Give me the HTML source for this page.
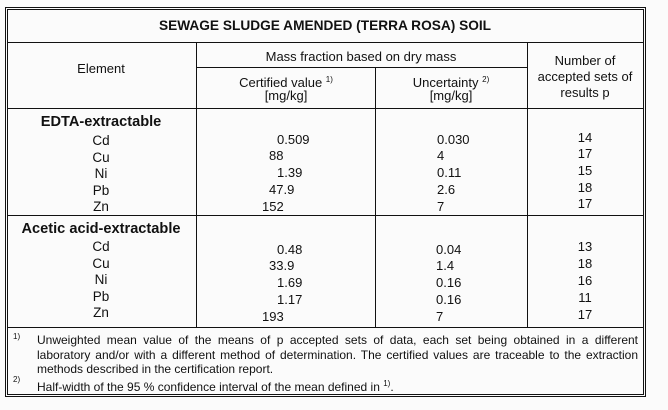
<!DOCTYPE html>
<html><head><meta charset="utf-8"><style>
body{margin:0;width:668px;height:410px;background:#fbfbfb;position:relative;overflow:hidden;font-family:"Liberation Sans",Arial,sans-serif;font-size:13px;color:#111}
.l{position:absolute;background:#111}
.t{position:absolute;line-height:13px;white-space:nowrap}
.c{transform:translateX(-50%)}
b{font-weight:bold}
sup{font-size:8px;vertical-align:5px}
</style></head><body>
<div class="l" style="left:5px;top:7px;width:641px;height:1px"></div>
<div class="l" style="left:5px;top:396px;width:641px;height:1px"></div>
<div class="l" style="left:5px;top:7px;width:1px;height:390px"></div>
<div class="l" style="left:645px;top:7px;width:1px;height:390px"></div>
<div class="l" style="left:7px;top:9px;width:637px;height:1px"></div>
<div class="l" style="left:7px;top:394px;width:637px;height:1px"></div>
<div class="l" style="left:7px;top:9px;width:1px;height:386px"></div>
<div class="l" style="left:643px;top:9px;width:1px;height:386px"></div>
<div class="l" style="left:7px;top:42px;width:637px;height:1px"></div>
<div class="l" style="left:196px;top:67px;width:331px;height:1px"></div>
<div class="l" style="left:7px;top:108px;width:637px;height:1px"></div>
<div class="l" style="left:7px;top:215px;width:637px;height:1px"></div>
<div class="l" style="left:7px;top:327px;width:637px;height:1px"></div>
<div class="l" style="left:196px;top:42px;width:1px;height:285px"></div>
<div class="l" style="left:375px;top:67px;width:1px;height:260px"></div>
<div class="l" style="left:527px;top:42px;width:1px;height:285px"></div>

<div class="t c" style="left:325px;top:19px;font-size:13.7px"><b>SEWAGE SLUDGE AMENDED (TERRA ROSA) SOIL</b></div>
<div class="t c" style="left:101px;top:62px">Element</div>
<div class="t c" style="left:361px;top:50px">Mass fraction based on dry mass</div>
<div class="t c" style="left:286px;top:73px">Certified value <sup>1)</sup></div>
<div class="t c" style="left:286px;top:89px">[mg/kg]</div>
<div class="t c" style="left:451px;top:73px">Uncertainty <sup>2)</sup></div>
<div class="t c" style="left:451px;top:89px">[mg/kg]</div>
<div class="t c" style="left:585px;top:54px">Number of</div>
<div class="t c" style="left:585px;top:70px">accepted sets of</div>
<div class="t c" style="left:585px;top:86px">results p</div>

<div class="t c" style="left:101px;top:116px;font-size:14.6px"><b>EDTA-extractable</b></div>
<div class="t c" style="left:101px;top:134px;font-size:13.5px">Cd</div>
<div class="t c" style="left:101px;top:151px;font-size:13.5px">Cu</div>
<div class="t c" style="left:101px;top:167px;font-size:13.5px">Ni</div>
<div class="t c" style="left:101px;top:184px;font-size:13.5px">Pb</div>
<div class="t c" style="left:101px;top:200px;font-size:13.5px">Zn</div>
<div class="t" style="left:277px;top:133px">0.509</div>
<div class="t" style="left:269px;top:149px">88</div>
<div class="t" style="left:277px;top:166px">1.39</div>
<div class="t" style="left:269px;top:183px">47.9</div>
<div class="t" style="left:262px;top:200px">152</div>
<div class="t" style="left:437px;top:133px">0.030</div>
<div class="t" style="left:437px;top:149px">4</div>
<div class="t" style="left:437px;top:166px">0.11</div>
<div class="t" style="left:437px;top:183px">2.6</div>
<div class="t" style="left:437px;top:200px">7</div>
<div class="t c" style="left:585px;top:131px">14</div>
<div class="t c" style="left:585px;top:147px">17</div>
<div class="t c" style="left:585px;top:164px">15</div>
<div class="t c" style="left:585px;top:181px">18</div>
<div class="t c" style="left:585px;top:197px">17</div>

<div class="t c" style="left:101px;top:223px;font-size:14.6px"><b>Acetic acid-extractable</b></div>
<div class="t c" style="left:101px;top:240px;font-size:13.5px">Cd</div>
<div class="t c" style="left:101px;top:257px;font-size:13.5px">Cu</div>
<div class="t c" style="left:101px;top:273px;font-size:13.5px">Ni</div>
<div class="t c" style="left:101px;top:290px;font-size:13.5px">Pb</div>
<div class="t c" style="left:101px;top:306px;font-size:13.5px">Zn</div>
<div class="t" style="left:277px;top:243px">0.48</div>
<div class="t" style="left:269px;top:259px">33.9</div>
<div class="t" style="left:277px;top:276px">1.69</div>
<div class="t" style="left:277px;top:293px">1.17</div>
<div class="t" style="left:262px;top:310px">193</div>
<div class="t" style="left:436px;top:243px">0.04</div>
<div class="t" style="left:436px;top:259px">1.4</div>
<div class="t" style="left:436px;top:276px">0.16</div>
<div class="t" style="left:436px;top:293px">0.16</div>
<div class="t" style="left:436px;top:310px">7</div>
<div class="t c" style="left:585px;top:240px">13</div>
<div class="t c" style="left:585px;top:257px">18</div>
<div class="t c" style="left:585px;top:274px">16</div>
<div class="t c" style="left:585px;top:291px">11</div>
<div class="t c" style="left:585px;top:308px">17</div>

<div class="t" style="left:13px;top:330px;font-size:8px">1)</div>
<div style="position:absolute;left:37px;top:333px;width:601px;font-size:12px;line-height:14.5px;text-align:justify">Unweighted mean value of the means of p accepted sets of data, each set being obtained in a different laboratory and/or with a different method of determination. The certified values are traceable to the extraction methods described in the certification report.</div>
<div class="t" style="left:13px;top:373px;font-size:8px">2)</div>
<div class="t" style="left:37px;top:377px;font-size:12px">Half-width of the 95 % confidence interval of the mean defined in <sup>1)</sup>.</div>
</body></html>
